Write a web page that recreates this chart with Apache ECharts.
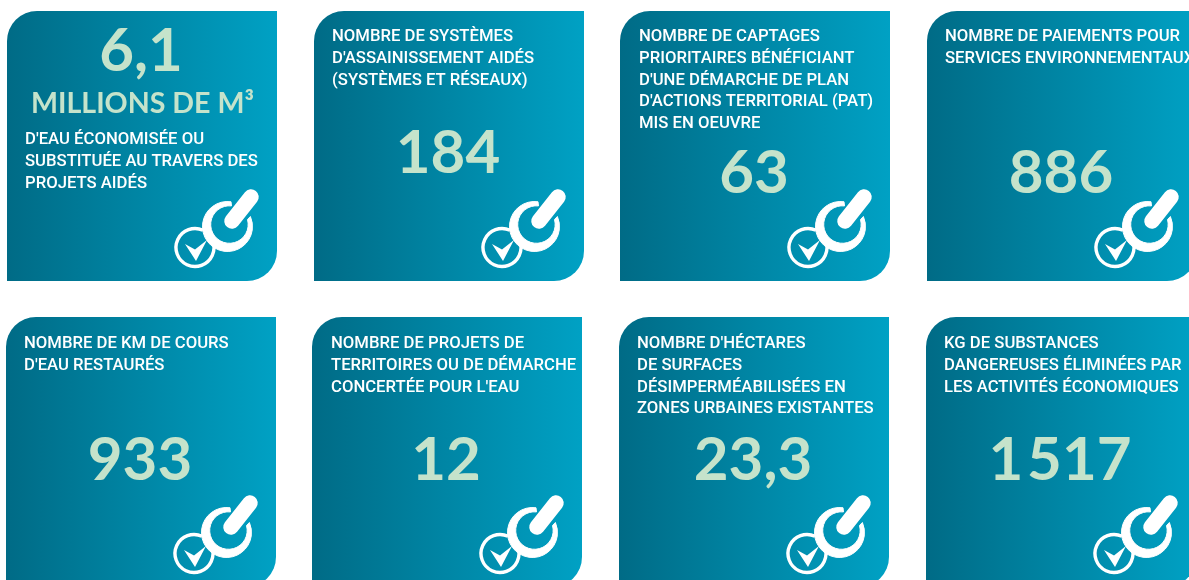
<!DOCTYPE html>
<html>
<head>
<meta charset="utf-8">
<style>
    html, body { margin: 0; padding: 0; background: #fff; overflow: hidden; }
    #main { width: 1189px; height: 580px; }
</style>
<script src="https://cdn.jsdelivr.net/npm/echarts@6/dist/echarts.min.js"></script>
</head>
<body>
<div id="main"></div>
<script>
    // figures shown on the tiles
    const cardValues = ['6,1', '184', '63', '886', '933', '12', '23,3', '1\u200A517']
    const cardUnits = ['MILLIONS DE M³', '', '', '', '', '', '', '']
    const cardLabels = [
        ["D'EAU ÉCONOMISÉE OU", 'SUBSTITUÉE AU TRAVERS DES', 'PROJETS AIDÉS'],
        ['NOMBRE DE SYSTÈMES', "D'ASSAINISSEMENT AIDÉS", '(SYSTÈMES ET RÉSEAUX)'],
        ['NOMBRE DE CAPTAGES', 'PRIORITAIRES BÉNÉFICIANT', "D'UNE DÉMARCHE DE PLAN", "D'ACTIONS TERRITORIAL (PAT)", 'MIS EN OEUVRE'],
        ['NOMBRE DE PAIEMENTS POUR', 'SERVICES ENVIRONNEMENTAUX'],
        ['NOMBRE DE KM DE COURS', "D'EAU RESTAURÉS"],
        ['NOMBRE DE PROJETS DE', 'TERRITOIRES OU DE DÉMARCHE', "CONCERTÉE POUR L'EAU"],
        ["NOMBRE D'HÉCTARES", 'DE SURFACES', 'DÉSIMPERMÉABILISÉES EN', 'ZONES URBAINES EXISTANTES'],
        ['KG DE SUBSTANCES', 'DANGEREUSES ÉLIMINÉES PAR', 'LES ACTIVITÉS ÉCONOMIQUES']
    ]

    // layout of the grid
    const tileLeft = [7, 314, 620, 927, 6, 312, 619, 926]
    const tileTop = [11, 11, 11, 11, 317, 317, 317, 317]
    const tileSize = 270
    const labelStart = [140, 37, 37, 37, 344, 344, 344, 344]
    const labelLeft = [18, 18, 19, 18, 18, 19, 18, 18]
    const valueCentre = [52, 154, 174, 174, 461, 461, 461, 461]

    const numberColor = '#c5e3cb'
    const labelFont = '500 16.7px Roboto'
    const valueFont = 'bold 60px Lato'

    function stampIcon(x, y) {
        // stamp + validated circle, in tile coordinates
        const white = { fill: '#fff', stroke: null }
        return {
            type: 'group',
            x: x + 1,
            y: y,
            children: [
                { type: 'arc', shape: { cx: 187, cy: 236.5, r: 19, startAngle: -0.35, endAngle: 5.15, clockwise: true }, style: { fill: null, stroke: '#fff', lineWidth: 3.4 } },
                { type: 'path', shape: { pathData: 'M177 233 L187 238.5 L199 229 L188 250 Z' }, style: white },
                { type: 'path', shape: { pathData: 'M223 190.75 A25 25 0 1 0 242.4 205.5 L239.5 208.5 A18.75 18.75 0 1 1 223.5 194.9 Z' }, style: { fill: '#fff', stroke: '#fff', lineWidth: 1 } },
                { type: 'line', shape: { x1: 224, y1: 210, x2: 243, y2: 186 }, style: { stroke: '#fff', lineWidth: 15.5, lineCap: 'round' } }
            ]
        }
    }

    function renderTile(params) {
        const i = params.dataIndex
        const x = tileLeft[i]
        const y = tileTop[i]
        const children = [{
            type: 'rect',
            shape: { x: x, y: y, width: tileSize, height: tileSize, r: [30, 0, 30, 0] },
            style: {
                fill: new echarts.graphic.LinearGradient(0, 0, 1, 0, [
                    { offset: 0, color: '#006b86' },
                    { offset: 1, color: '#00a1c4' }
                ])
            }
        }]
        children.push({
            type: 'text',
            style: { text: cardValues[i], x: x + 134, y: valueCentre[i], fill: numberColor, font: valueFont, textAlign: 'center', textVerticalAlign: 'middle' }
        })
        if (cardUnits[i]) {
            children.push({
                type: 'text',
                style: { text: cardUnits[i], x: x + 135.5, y: 104, fill: numberColor, font: 'bold 28.6px Lato', textAlign: 'center', textVerticalAlign: 'middle' }
            })
        }
        cardLabels[i].forEach((line, n) => {
            children.push({
                type: 'text',
                style: { text: line, x: x + labelLeft[i], y: labelStart[i] + n * 21.7, fill: '#fff', font: labelFont, textAlign: 'left', textVerticalAlign: 'middle' }
            })
        })
        children.push(stampIcon(x, y))
        return { type: 'group', children: children }
    }

    const myChart = echarts.init(document.getElementById('main'))
    const option = {
        animation: false,
        backgroundColor: '#fff',
        series: [
            {
                type: 'custom',
                coordinateSystem: 'none',
                renderItem: renderTile,
                data: cardValues
            }
        ]
    }
    myChart.setOption(option)
</script>
</body>
</html>
